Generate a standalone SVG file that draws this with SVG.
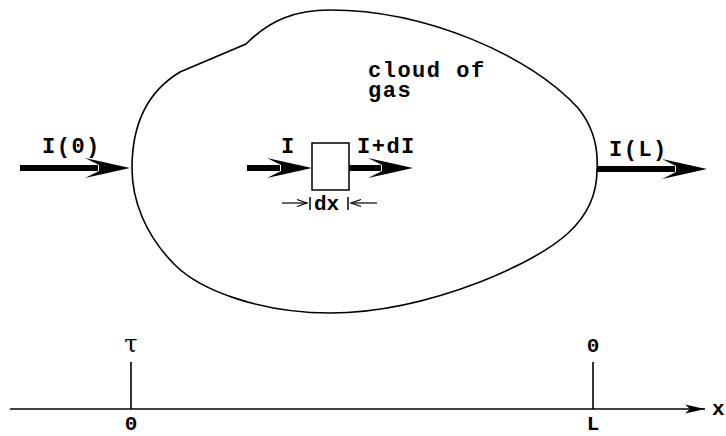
<svg xmlns="http://www.w3.org/2000/svg" width="726" height="436" viewBox="0 0 726 436">
<style>
.t{font-family:"Liberation Mono","Courier New",monospace;font-weight:bold;font-size:22px;letter-spacing:1.5px;fill:#000}
.s{font-family:"Liberation Mono","Courier New",monospace;font-weight:bold;font-size:21px;fill:#000}
.g{font-family:"DejaVu Serif","Liberation Serif",serif;font-size:24px;fill:#000}
.thick{stroke:#000;stroke-width:6;fill:none}
.thin{stroke:#000;stroke-width:1.6;fill:none}
</style>
<defs>
<marker id="big" markerUnits="userSpaceOnUse" viewBox="-15 -12 50 24" markerWidth="50" markerHeight="24" refX="0" refY="0" orient="auto">
<path d="M1,-3 L-13,-10 L32,0 L-13,10 L1,3 Z" fill="#000"/>
</marker>
<marker id="small" markerUnits="userSpaceOnUse" viewBox="-12 -6 14 12" markerWidth="14" markerHeight="12" refX="0" refY="0" orient="auto">
<path d="M-10,-3.5 L0,0 L-10,3.5" fill="none" stroke="#000" stroke-width="1.2"/>
</marker>
<marker id="axis" markerUnits="userSpaceOnUse" viewBox="-22 -6 24 12" markerWidth="24" markerHeight="12" refX="0" refY="0" orient="auto">
<path d="M0,0 L-20,-4.5 L-15,0 L-20,4.5 Z" fill="#000"/>
</marker>
</defs>
<g id="cloud">
<path class="thin" d="M246,44 C270,20 295,10 330,10 C425,10 530,55 578,108 C596,130 598,155 597,170 C597,220 560,250 480,282 C420,305 370,313 330,313 C260,313 200,290 175,265 C145,235 132,200 132,168 C132,120 150,90 180,72 L246,44 Z"/>
<text class="t" x="368" y="77">cloud of</text>
<text class="t" x="368" y="97">gas</text>
</g>
<g id="slab">
<rect x="312" y="143" width="37" height="47" fill="#fff" stroke="#000" stroke-width="1.5"/>
<text class="t" x="281" y="153">I</text>
<text class="t" x="357" y="153">I+dI</text>
<line x1="310" y1="197" x2="310" y2="210" stroke="#000" stroke-width="1.5"/>
<line x1="348" y1="197" x2="348" y2="210" stroke="#000" stroke-width="1.5"/>
<text class="s" x="314" y="210">dx</text>
</g>
<g id="labels">
<text class="t" x="42" y="153">I(0)</text>
<text class="t" x="609" y="156">I(L)</text>
</g>
<g id="connectors">
<line class="thick" x1="20" y1="168" x2="98" y2="168" marker-end="url(#big)"/>
<line class="thick" x1="247" y1="168" x2="280" y2="168" marker-end="url(#big)"/>
<line class="thick" x1="349" y1="168" x2="381" y2="168" marker-end="url(#big)"/>
<line class="thick" x1="597" y1="169" x2="675" y2="169" marker-end="url(#big)"/>
<line x1="282" y1="203" x2="307" y2="203" stroke="#000" stroke-width="1.2" marker-end="url(#small)"/>
<line x1="377" y1="203" x2="351" y2="203" stroke="#000" stroke-width="1.2" marker-end="url(#small)"/>
</g>
<g id="axis-group">
<line x1="10" y1="409" x2="705" y2="409" stroke="#000" stroke-width="1.6" marker-end="url(#axis)"/>
<line x1="131" y1="362" x2="131" y2="409" stroke="#000" stroke-width="1.6"/>
<line x1="593" y1="362" x2="593" y2="409" stroke="#000" stroke-width="1.6"/>
<text class="g" x="131" y="352" text-anchor="middle">τ</text>
<text class="s" x="131" y="430" text-anchor="middle">0</text>
<text class="s" x="593" y="352" text-anchor="middle">0</text>
<text class="s" x="593" y="430" text-anchor="middle">L</text>
<text class="s" x="712" y="415">x</text>
</g>
</svg>
